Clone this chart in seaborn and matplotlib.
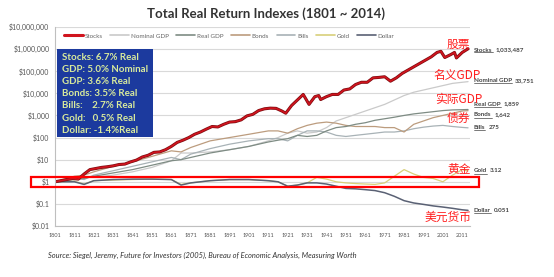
import matplotlib
matplotlib.use("Agg")
import matplotlib.pyplot as plt
import matplotlib.patches as mpatches
import matplotlib.patheffects as pe
from matplotlib.lines import Line2D
import pandas as pd
import seaborn as sns

# Data (index value, $1 invested in 1801)
stock_years = [1801, 1804, 1807, 1810, 1813, 1816, 1819, 1822, 1825, 1828, 1831, 1834, 1837,
               1840, 1843, 1846, 1849, 1852, 1855, 1858, 1861, 1864, 1867, 1870, 1873, 1876,
               1879, 1882, 1885, 1888, 1891, 1894, 1897, 1900, 1903, 1906, 1909, 1912, 1915,
               1918, 1920, 1923, 1926, 1929, 1932, 1935, 1937, 1938, 1941, 1944, 1947, 1950,
               1953, 1956, 1959, 1962, 1965, 1968, 1971, 1974, 1977, 1980, 1983, 1986, 1989,
               1992, 1995, 1998, 2000, 2002, 2005, 2007, 2008, 2011, 2014]
stocks = [1, 1.12, 1.26, 1.41, 1.32, 2.24, 3.55, 3.98, 4.47, 4.79, 5.25, 6.03, 6.31,
          7.94, 9.55, 13.2, 15.8, 21.4, 22.4, 28.2, 39.8, 60.3, 75.9, 100, 141, 178,
          240, 316, 302, 398, 501, 525, 631, 955, 1122, 1660, 1995, 2138, 2089,
          1585, 1259, 2818, 5012, 8913, 3162, 7079, 7943, 5248, 7079, 8913, 8913, 14125,
          15849, 25119, 31623, 31623, 50119, 52481, 56234, 35481, 50119, 79433, 112202, 158489, 223872,
          316228, 446684, 707946, 794328, 416869, 562341, 707946, 398107, 707946, 1033487]

years = [1801, 1811, 1816, 1821, 1831, 1841, 1851, 1861, 1866, 1871, 1881, 1891, 1901, 1911,
         1916, 1921, 1926, 1931, 1936, 1941, 1946, 1951, 1956, 1961, 1966, 1971, 1976, 1981,
         1986, 1991, 1996, 2001, 2006, 2011, 2014]
nominal_gdp = [1, 1.41, 1.58, 1.58, 2.0, 2.82, 4.47, 8.91, 20.0, 20.0, 22.4, 28.2, 39.8, 70.8,
               100, 158, 200, 158, 178, 282, 562, 794, 1122, 1585, 2239, 3162, 5012, 7943,
               11220, 14125, 17783, 22387, 28184, 31623, 33751]
real_gdp = [1, 1.26, 1.41, 1.78, 2.51, 3.55, 5.62, 8.91, 10, 12.6, 20.0, 28.2, 39.8, 63.1,
            75.9, 89.1, 126, 112, 126, 200, 282, 316, 398, 468, 603, 708, 832, 1000,
            1175, 1318, 1479, 1660, 1778, 1820, 1859]
bonds = [1, 1.78, 2.0, 2.82, 5.01, 7.94, 14.1, 25.1, 22.4, 35.5, 70.8, 100, 141, 200,
         200, 158, 251, 355, 447, 501, 447, 355, 316, 316, 316, 282, 282, 178,
         398, 562, 794, 1000, 1259, 1585, 1642]
bills = [1, 1.58, 1.26, 2.0, 3.16, 5.01, 7.94, 12.6, 10, 17.8, 31.6, 50.1, 70.8, 89.1,
         89.1, 70.8, 126, 200, 200, 178, 126, 112, 126, 141, 158, 178, 178, 200,
         251, 295, 331, 355, 316, 288, 275]
gold = [1, 1.05, 0.79, 1.12, 1.2, 1.26, 1.32, 1.26, 0.76, 0.89, 1.12, 1.26, 1.26, 1.12,
        1.0, 0.63, 0.71, 0.89, 1.58, 1.32, 1.0, 0.89, 0.83, 0.79, 0.76, 0.89, 1.78, 3.55,
        2.24, 1.58, 1.41, 1.0, 2.0, 3.55, 3.12]
dollar = [1, 1, 0.76, 1.12, 1.26, 1.32, 1.32, 1.26, 0.71, 0.89, 1.12, 1.26, 1.26, 1.12,
          1.0, 0.63, 0.71, 0.89, 0.89, 0.79, 0.63, 0.50, 0.48, 0.44, 0.40, 0.32, 0.22, 0.14,
          0.11, 0.095, 0.081, 0.072, 0.063, 0.054, 0.051]

series_names = ["Stocks", "Nominal GDP", "Real GDP", "Bonds", "Bills", "Gold", "Dollar"]
end_labels = ["1,033,487", "33,751", "1,859", "1,642", "275", "3.12", "0.051"]
box_lines = ["Stocks: 6.7% Real", "GDP: 5.0% Nominal", "GDP: 3.6% Real", "Bonds: 3.5% Real",
             "Bills:    2.7% Real", "Gold:   0.5% Real", "Dollar: -1.4%Real"]
cn_labels = ["股票", "名义GDP", "实际GDP", "债券", "黄金", "美元货币"]
ytick_vals = [0.01, 0.1, 1, 10, 100, 1e3, 1e4, 1e5, 1e6, 1e7]
ytick_text = ["$0.01", "$0.1", "$1", "$10", "$100", "$1,000", "$10,000", "$100,000",
              "$1,000,000", "$10,000,000"]
xtick_vals = list(range(1801, 2012, 10))

frames = [pd.DataFrame({"year": stock_years, "value": stocks, "series": "Stocks"})]
for name, vals in zip(series_names[1:], [nominal_gdp, real_gdp, bonds, bills, gold, dollar]):
    frames.append(pd.DataFrame({"year": years, "value": vals, "series": name}))
df = pd.concat(frames, ignore_index=True)

colors = {"Stocks": "#d0141e", "Nominal GDP": "#cacaca", "Real GDP": "#7e8c84",
          "Bonds": "#bc9c7e", "Bills": "#a8b2b6", "Gold": "#d8d07a", "Dollar": "#5a6174"}
widths = {"Stocks": 1.2, "Nominal GDP": 0.9, "Real GDP": 0.9, "Bonds": 0.9,
          "Bills": 0.9, "Gold": 0.9, "Dollar": 1.1}

sns.set_style("white")
plt.rcParams["font.family"] = ["Lato", "DejaVu Sans"]

W, H = 554, 277
fig = plt.figure(figsize=(W / 100, H / 100), dpi=100)
ax = fig.add_axes([55 / W, 1 - 226 / H, (470 - 55) / W, (226 - 27) / H])

draw_order = ["Nominal GDP", "Bills", "Bonds", "Real GDP", "Gold", "Dollar", "Stocks"]
for name in draw_order:
    sub = df[df["series"] == name]
    sns.lineplot(data=sub, x="year", y="value", ax=ax, color=colors[name],
                 lw=widths[name], legend=False)
    if name == "Stocks":
        ax.lines[-1].set_path_effects([pe.Stroke(linewidth=2.2, foreground="#7c0c10"), pe.Normal()])

ax.set_yscale("log")
ax.set_ylim(0.01, 1e7)
ax.set_xlim(1801, 2015)
ax.set_yticks(ytick_vals)
ax.set_yticklabels(ytick_text)
ax.set_xticks(xtick_vals)
ax.set_xticklabels([str(y) for y in xtick_vals])
ax.minorticks_off()
ax.tick_params(axis="y", labelsize=5, colors="#555555", length=2, pad=2)
ax.tick_params(axis="x", labelsize=4, colors="#555555", length=2, pad=3)
ax.set_xlabel("")
ax.set_ylabel("")
ax.grid(axis="y", color="#d9d9d9", lw=0.8)
for s in ["top", "right"]:
    ax.spines[s].set_visible(False)
for s in ["left", "bottom"]:
    ax.spines[s].set_color("#bfbfbf")
    ax.spines[s].set_linewidth(0.8)

handles = [Line2D([0], [0], color=colors[n], lw=(2.2 if n == "Stocks" else 1.2)) for n in series_names]
ax.legend(handles, series_names, ncol=7, loc="center", bbox_to_anchor=(0.42, 0.955),
          frameon=False, fontsize=4.5, handlelength=3, columnspacing=1.2, handletextpad=0.3,
          labelcolor="#666666")

# title and source
fig.text(0.48, 1 - 14 / H, "Total Real Return Indexes (1801 ~ 2014)", ha="center", va="center",
         fontsize=9.5, fontweight="bold", color="#333333")
fig.text(48 / W, 1 - 255 / H,
         "Source: Siegel, Jeremy, Future for Investors (2005), Bureau of Economic Analysis, Measuring Worth",
         ha="left", va="center", fontsize=5.4, style="italic", color="#333333")

# blue text box
fig.add_artist(mpatches.Rectangle((57 / W, 1 - 137 / H), (153 - 57) / W, (137 - 49) / H,
                                  transform=fig.transFigure, facecolor="#1c3a9e", edgecolor="none"))
for i, line in enumerate(box_lines):
    fig.text(62 / W, 1 - (57 + i * 12.2) / H, line, ha="left", va="center",
             fontsize=7, fontweight="bold", color="#d8ea9c")

# end labels with underlined series names
label_px = [(474, 50), (474, 81), (474, 104), (474, 115), (474, 127), (474, 171), (474, 211)]
fig.canvas.draw()
renderer = fig.canvas.get_renderer()
inv = fig.transFigure.inverted()
for name, num, (px, py) in zip(series_names, end_labels, label_px):
    t = fig.text(px / W, 1 - py / H, name, ha="left", va="center", fontsize=4.5,
                 fontweight="bold", color="#444444")
    bb = t.get_window_extent(renderer)
    x0, y0 = inv.transform((bb.x0, bb.y0))
    x1, _ = inv.transform((bb.x1, bb.y0))
    fig.add_artist(Line2D([x0, x1], [y0, y0], transform=fig.transFigure, color="#444444", lw=0.5))
    fig.text(x1 + 3 / W, 1 - py / H, num, ha="left", va="center", fontsize=4.5,
             fontweight="bold", color="#444444")

# red Chinese annotations
cn_px = [(447, 44), (433, 75), (435, 99), (447, 118), (447, 169), (425, 217)]
for txt, (px, py) in zip(cn_labels, cn_px):
    fig.text(px / W, 1 - py / H, txt, ha="left", va="center", fontsize=8.5, color="#ff1f1f",
             family=["Noto Sans CJK SC", "DejaVu Sans"])

# red box around the $1 line
fig.add_artist(mpatches.Rectangle((31 / W, 1 - 187 / H), (479 - 31) / W, 10 / H,
                                  transform=fig.transFigure, fill=False, edgecolor="#ff0000", lw=1.6))

fig.savefig("out.png", dpi=100)
